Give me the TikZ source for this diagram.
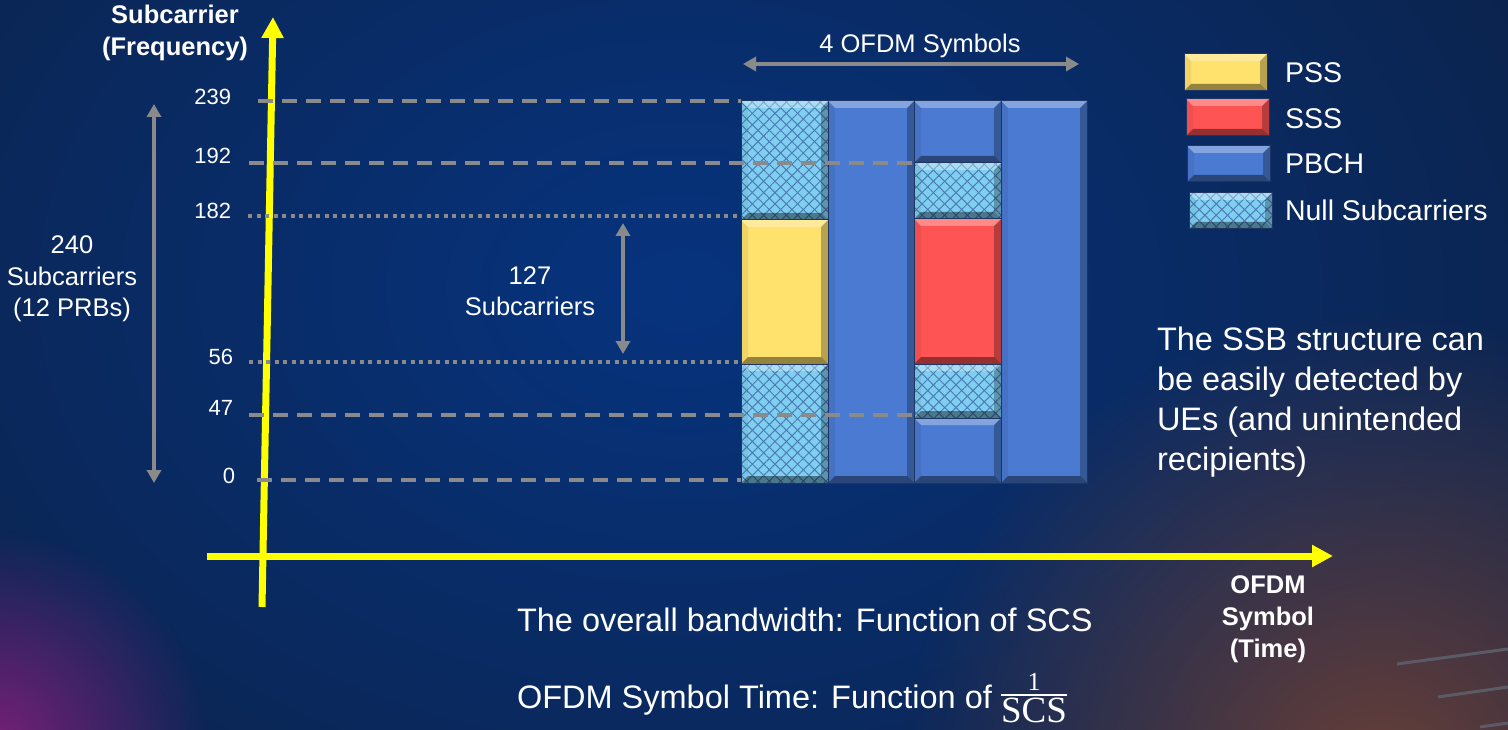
\documentclass[tikz,border=0pt]{standalone}
\usepackage{fontspec}
\setmainfont{Liberation Sans}
\newfontfamily\fracfont{Liberation Serif}
\usetikzlibrary{arrows.meta,patterns.meta,fadings}

\definecolor{bgbase}{HTML}{0E1C36}
\definecolor{bgblue}{HTML}{07347F}
\definecolor{bgember}{HTML}{6A4038}
\definecolor{bgviolet}{HTML}{7A207A}
\definecolor{axisyellow}{HTML}{FFFF00}
\definecolor{guidegray}{HTML}{8A8A8A}
\definecolor{pssfill}{HTML}{FFE16E}
\definecolor{sssfill}{HTML}{FF5454}
\definecolor{pbchfill}{HTML}{4A7AD2}
\definecolor{nullfill}{HTML}{80CFF0}
\definecolor{nullmesh}{HTML}{4A7DB5}
\definecolor{edgenavy}{HTML}{1E3564}
\definecolor{streak}{HTML}{5B5B68}

\tikzfading[name=softglow, inner color=transparent!0, outer color=transparent!100]

\tikzset{
  every node/.style={inner sep=0pt, outer sep=0pt},
  bevel/.style={path picture={
    \coordinate (bvnw) at (path picture bounding box.north west);
    \coordinate (bvne) at (path picture bounding box.north east);
    \coordinate (bvsw) at (path picture bounding box.south west);
    \coordinate (bvse) at (path picture bounding box.south east);
    \fill[white, opacity=0.32] (bvnw) -- (bvne) -- ([shift={(-7pt,-7pt)}]bvne) -- ([shift={(7pt,-7pt)}]bvnw) -- cycle;
    \fill[black, opacity=0.06] (bvnw) -- ([shift={(7pt,-7pt)}]bvnw) -- ([shift={(7pt,7pt)}]bvsw) -- (bvsw) -- cycle;
    \fill[black, opacity=0.28] (bvne) -- (bvse) -- ([shift={(-7pt,7pt)}]bvse) -- ([shift={(-7pt,-7pt)}]bvne) -- cycle;
    \fill[black, opacity=0.42] (bvsw) -- ([shift={(7pt,7pt)}]bvsw) -- ([shift={(-7pt,7pt)}]bvse) -- (bvse) -- cycle;
  }},
  cell/.style={draw=edgenavy, line width=1pt, anchor=north west, bevel},
  pssblk/.style={cell, fill=pssfill},
  sssblk/.style={cell, fill=sssfill},
  pbchblk/.style={cell, fill=pbchfill},
  nullblk/.style={cell, preaction={fill=nullfill},
    preaction={pattern={Lines[angle=45,distance=8pt,line width=1pt]}, pattern color=nullmesh},
    pattern={Lines[angle=-45,distance=8pt,line width=1pt]}, pattern color=nullmesh},
  guidedash/.style={guidegray, line width=4pt, dash pattern=on 15pt off 9pt},
  guidedot/.style={guidegray, line width=4pt, dash pattern=on 4pt off 4.5pt},
  axisline/.style={axisyellow, line width=7pt, -{Triangle[length=21pt,width=21pt]}},
  span/.style={guidegray, line width=4pt, {Triangle[length=13pt,width=14pt]}-{Triangle[length=13pt,width=14pt]}},
  tick/.style={white, anchor=east, font=\fontsize{22}{26}\selectfont},
  plain/.style={white, font=\fontsize{25.5}{31.5}\selectfont, align=center},
  axislabel/.style={white, font=\bfseries\fontsize{25.5}{32}\selectfont, align=center},
  legendtext/.style={white, anchor=west, font=\fontsize{28.5}{34}\selectfont},
  note/.style={white, anchor=west, font=\fontsize{32.5}{40}\selectfont, align=left},
}

\begin{document}
\begin{tikzpicture}[x=1pt, y=-1pt]
\useasboundingbox (0,0) rectangle (1508,730);

% backdrop with soft glows
\fill[bgbase] (0,0) rectangle (1508,730);
\fill[bgblue, path fading=softglow] (680,290) ellipse [x radius=1400pt, y radius=1000pt];
\fill[bgember, path fading=softglow] (1380,790) circle [radius=480pt];
\fill[bgviolet, path fading=softglow] (-10,750) circle [radius=220pt];
\draw[streak, line width=3pt] (1397,664) -- (1508,649);
\draw[streak, line width=3pt] (1438,697) -- (1508,687);
\draw[streak, line width=3pt] (1480,727) -- (1508,723);

% resource grid: 4 OFDM symbols x 240 subcarriers
\node[nullblk, minimum width=87pt, minimum height=119pt] (c1top) at (741,101) {};
\node[pssblk,  minimum width=87pt, minimum height=144pt] (pss)   at (741,220) {};
\node[nullblk, minimum width=87pt, minimum height=119pt] (c1bot) at (741,364) {};
\node[pbchblk, minimum width=86pt, minimum height=382pt] (c2)    at (828,101) {};
\node[pbchblk, minimum width=87pt, minimum height=62pt]  (c3top) at (914,101) {};
\node[nullblk, minimum width=87pt, minimum height=56pt]  (c3n1)  at (914,163) {};
\node[sssblk,  minimum width=87pt, minimum height=145pt] (sss)   at (914,219) {};
\node[nullblk, minimum width=87pt, minimum height=54pt]  (c3n2)  at (914,364) {};
\node[pbchblk, minimum width=87pt, minimum height=65pt]  (c3bot) at (914,418) {};
\node[pbchblk, minimum width=86pt, minimum height=382pt] (c4)    at (1001,101) {};

% axes
\coordinate (ybase) at (262,607);
\coordinate (ytip) at (273,17);
\coordinate (xbase) at (207,556);
\coordinate (xtip) at (1333,556);
\draw[axisline] (ybase) -- (ytip);
\draw[axisline] (xbase) -- (xtip);

% subcarrier guide lines
\coordinate (g239) at (258,101);
\coordinate (g192) at (249,163);
\coordinate (g182) at (248,216);
\coordinate (g56) at (249,362);
\coordinate (g47) at (249,415);
\coordinate (g0) at (257,480);
\draw[guidedash] (g239) -- (g239 -| c1top.west);
\draw[guidedash] (g192) -- (g192 -| c3n1.west);
\draw[guidedot]  (g182) -- (g182 -| c1top.west);
\draw[guidedot]  (g56)  -- (g56 -| pss.west);
\draw[guidedash] (g47)  -- (g47 -| c3n2.west);
\draw[guidedash] (g0)   -- (g0 -| c1bot.west);

% subcarrier indices
\node[tick] (t239) at (231,97) {239};
\node[tick] (t192) at (231,156) {192};
\node[tick] (t182) at (231,211) {182};
\node[tick] (t56)  at (233,357) {56};
\node[tick] (t47)  at (233,408) {47};
\node[tick] (t0)   at (235,476) {0};

% span markers
\coordinate (fullhi) at (154,104);
\coordinate (fulllo) at (154,483);
\draw[span] (fulllo) -- (fullhi);
\node[plain] (fulltxt) at (72,279) {240\\Subcarriers\\(12 PRBs)};

\coordinate (synhi) at (623,223);
\coordinate (synlo) at (623,354);
\draw[span] (synlo) -- (synhi);
\node[plain] (syntxt) at (530,291) {127\\Subcarriers};

\coordinate (symL) at (743,64);
\coordinate (symR) at (1079,64);
\draw[span] (symL) -- (symR);
\node[plain] (symtxt) at (920,46) {4 OFDM Symbols};

% axis titles
\node[axislabel] (ytitle) at (175,33) {Subcarrier\\(Frequency)};
\node[axislabel] (xtitle) at (1268,619) {OFDM\\Symbol\\(Time)};

% legend
\node[pssblk,  minimum width=83pt, minimum height=37pt] (lpss)  at (1184,54) {};
\node[sssblk,  minimum width=83pt, minimum height=37pt] (lsss)  at (1186,99) {};
\node[pbchblk, minimum width=83pt, minimum height=36pt] (lpbch) at (1187,146) {};
\node[nullblk, minimum width=83pt, minimum height=36pt] (lnull) at (1189,193) {};
\node[legendtext] (tpss)  at (1285,73)  {PSS};
\node[legendtext] (tsss)  at (1285,119) {SSS};
\node[legendtext] (tpbch) at (1285,164) {PBCH};
\node[legendtext] (tnull) at (1285,210) {Null Subcarriers};

% remarks
\node[note] (remark) at (1157,402) {The SSB structure can\\be easily detected by\\UEs (and unintended\\recipients)};
\node[note] (bwtxt) at (517,620) {The overall bandwidth: Function of SCS};
\node[note] (symtime) at (517,700) {OFDM Symbol Time: Function of};
\node[white, anchor=north] (frac) at (1034,673) {\fracfont\setlength{\arrayrulewidth}{1.8pt}%
  \begin{tabular}{@{}c@{}}{\fontsize{26}{27}\selectfont 1}\\[0pt]\hline
  \rule{0pt}{27pt}{\fontsize{37}{38}\selectfont SCS}\end{tabular}};
\end{tikzpicture}
\end{document}
